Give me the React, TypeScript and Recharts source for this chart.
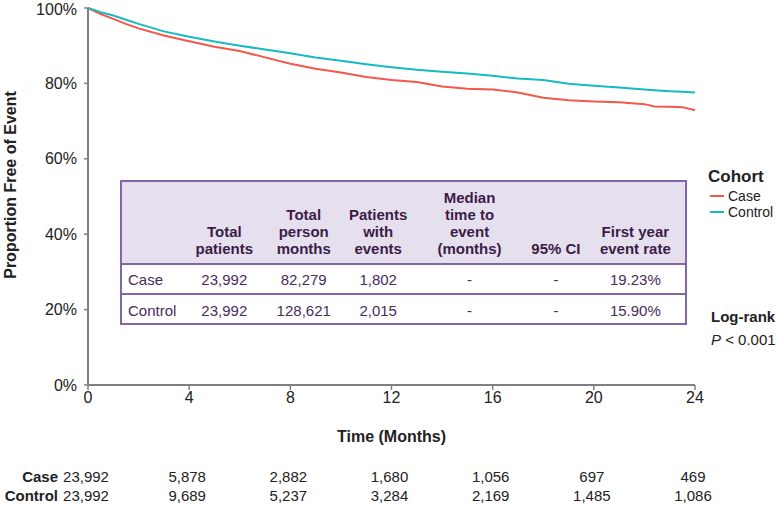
import { LineChart, Line, XAxis, YAxis, Label } from "recharts";

const months = [0, 0.5, 1, 1.5, 2, 3, 4, 5, 6, 7, 8, 9, 10, 11, 12, 13, 14, 15, 16, 17, 18, 19, 20, 21, 22, 22.4, 23, 23.5, 24];
const caseSurvival = [100, 98.4, 97.1, 95.8, 94.6, 92.7, 91.2, 89.7, 88.6, 86.9, 85.2, 83.9, 82.9, 81.7, 80.9, 80.4, 79.2, 78.6, 78.4, 77.6, 76.2, 75.5, 75.2, 75.0, 74.5, 73.9, 73.8, 73.7, 72.9];
const controlSurvival = [100, 98.9, 98.0, 96.9, 95.8, 93.8, 92.4, 91.1, 90.0, 89.0, 88.0, 86.9, 86.0, 85.1, 84.3, 83.6, 83.1, 82.6, 82.0, 81.3, 80.9, 79.9, 79.4, 78.9, 78.4, 78.2, 77.9, 77.8, 77.6];

const timeTicks = [0, 4, 8, 12, 16, 20, 24];
const pctTicks = [0, 20, 40, 60, 80, 100];
const atRiskCase = ["23,992", "5,878", "2,882", "1,680", "1,056", "697", "469"];
const atRiskControl = ["23,992", "9,689", "5,237", "3,284", "2,169", "1,485", "1,086"];

const tableHeaders = [
  [""],
  ["Total", "patients"],
  ["Total", "person", "months"],
  ["Patients", "with", "events"],
  ["Median", "time to", "event", "(months)"],
  ["95% CI"],
  ["First year", "event rate"],
];
const caseRow = ["Case", "23,992", "82,279", "1,802", "-", "-", "19.23%"];
const controlRow = ["Control", "23,992", "128,621", "2,015", "-", "-", "15.90%"];

const RED = "#f4574b";
const TEAL = "#17b9c3";
const AXIS = "#808080";
const TEXT = "#222";
const PURPLE = "#8465a6";
const colWidths = [63, 80, 80, 70, 114, 60, 100];

const data = months.map((t, i) => ({ t, caseS: caseSurvival[i], controlS: controlSurvival[i] }));

function TimeTick(props: any) {
  const { x, y, payload } = props;
  const i = timeTicks.indexOf(payload.value);
  const f = { fontFamily: "Liberation Sans, Arial", fontSize: 15, fill: TEXT };
  return (
    <g>
      <text x={x} y={y + 11} textAnchor="middle" {...f} fontSize={16}>
        {payload.value}
      </text>
      <text x={x - 2} y={482} textAnchor="middle" {...f}>{atRiskCase[i]}</text>
      <text x={x - 2} y={501} textAnchor="middle" {...f}>{atRiskControl[i]}</text>
      {i === 0 && (
        <>
          <text x={x - 30} y={482} textAnchor="end" {...f} fontWeight="bold">Case</text>
          <text x={x - 30} y={501} textAnchor="end" {...f} fontWeight="bold">Control</text>
        </>
      )}
    </g>
  );
}

function Row({ cells, last }: { cells: string[]; last?: boolean }) {
  return (
    <div style={{ display: "flex", height: 30, borderBottom: last ? "none" : `2px solid ${PURPLE}`, boxSizing: "border-box", alignItems: "center" }}>
      {cells.map((c, i) => (
        <div key={i} style={{ width: colWidths[i], textAlign: i === 0 ? "left" : "center", paddingLeft: i === 0 ? 6 : 0, boxSizing: "border-box" }}>
          {c}
        </div>
      ))}
    </div>
  );
}

export default function App() {
  return (
    <div style={{ position: "absolute", left: 0, top: 0, width: 778, height: 506, background: "#fff", fontFamily: "Liberation Sans, Arial, sans-serif" }}>
      <LineChart width={778} height={506} data={data} margin={{ top: 8, right: 83, bottom: 0, left: 0 }}>
        <XAxis
          dataKey="t"
          type="number"
          domain={[0, 24]}
          ticks={timeTicks}
          interval={0}
          height={121}
          axisLine={{ stroke: AXIS, strokeWidth: 2 }}
          tickLine={{ stroke: AXIS, strokeWidth: 1.5 }}
          tickSize={5}
          tick={<TimeTick />}
        >
          <Label
            content={(p: any) => (
              <text x={p.viewBox.x + p.viewBox.width / 2} y={p.viewBox.y + 57} textAnchor="middle" fontFamily="Liberation Sans, Arial" fontSize={16} fontWeight="bold" fill={TEXT}>
                Time (Months)
              </text>
            )}
          />
        </XAxis>
        <YAxis
          type="number"
          domain={[0, 100]}
          ticks={pctTicks}
          width={88}
          axisLine={{ stroke: AXIS, strokeWidth: 2 }}
          tickLine={{ stroke: AXIS, strokeWidth: 1.5 }}
          tickSize={4}
          tickMargin={7}
          tickFormatter={(v) => `${v}%`}
          tick={{ fontSize: 16, fill: TEXT, fontFamily: "Liberation Sans, Arial" }}
        >
          <Label
            content={() => (
              <text x={10} y={185} transform="rotate(-90 10 185)" textAnchor="middle" dominantBaseline="central" fontFamily="Liberation Sans, Arial" fontSize={16} fontWeight="bold" fill={TEXT}>
                Proportion Free of Event
              </text>
            )}
          />
        </YAxis>
        <Line dataKey="caseS" stroke={RED} strokeWidth={2} dot={false} isAnimationActive={false} />
        <Line dataKey="controlS" stroke={TEAL} strokeWidth={2} dot={false} isAnimationActive={false} />
      </LineChart>

      <div style={{ position: "absolute", left: 120, top: 180, width: 567, height: 145, border: `2px solid ${PURPLE}`, boxSizing: "border-box", fontSize: 15, color: "#4a2b5b", background: "#fff" }}>
        <div style={{ display: "flex", height: 83, background: "#e6e0ee", borderBottom: `2px solid ${PURPLE}`, boxSizing: "border-box", alignItems: "flex-end", paddingBottom: 6, fontWeight: "bold", color: "#3b1c48", lineHeight: "17px" }}>
          {tableHeaders.map((h, i) => (
            <div key={i} style={{ width: colWidths[i], textAlign: "center" }}>
              {h.map((l, j) => (
                <div key={j}>{l}</div>
              ))}
            </div>
          ))}
        </div>
        <Row cells={caseRow} />
        <Row cells={controlRow} last />
      </div>

      <div style={{ position: "absolute", left: 708, top: 166, color: TEXT }}>
        <div style={{ fontSize: 17, fontWeight: "bold", lineHeight: "22px" }}>Cohort</div>
        {[["Case", RED], ["Control", TEAL]].map(([n, c]) => (
          <div key={n} style={{ display: "flex", alignItems: "center", fontSize: 14, lineHeight: "16px", marginLeft: 2 }}>
            <span style={{ display: "inline-block", width: 14, height: 2, background: c, marginRight: 4 }} />
            {n}
          </div>
        ))}
      </div>

      <div style={{ position: "absolute", left: 711, top: 307, color: TEXT, fontSize: 15 }}>
        <div style={{ fontWeight: "bold", lineHeight: "20px" }}>Log-rank</div>
        <div style={{ lineHeight: "26px" }}>
          <i>P</i> &lt; 0.001
        </div>
      </div>
    </div>
  );
}
